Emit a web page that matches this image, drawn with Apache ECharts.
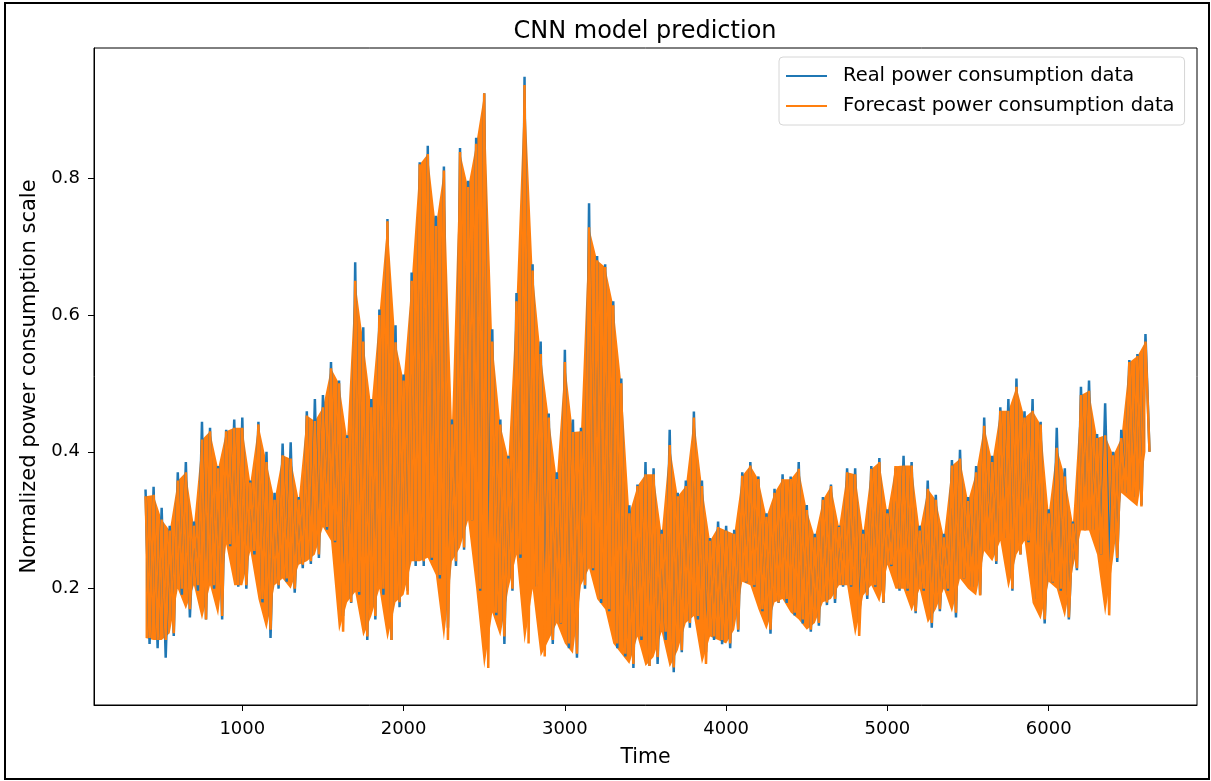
<!DOCTYPE html>
<html><head><meta charset="utf-8">
<script src="https://cdn.jsdelivr.net/npm/echarts@6/dist/echarts.min.js"></script>
<style>html,body{margin:0;padding:0;background:#fff}#c{width:1211px;height:781px}</style>
</head><body><div id="c"></div>
<script>
// Time index of first sample and spacing between successive peak samples
const xStart = 400;
const xStep = 50;

// Real power consumption: local highs (at xStart + i*xStep) and lows (half a step later)
const realHigh = [0.345,0.349,0.318,0.292,0.370,0.385,0.298,0.444,0.435,0.379,
 0.432,0.447,0.450,0.358,0.444,0.400,0.340,0.412,0.414,0.334,
 0.459,0.477,0.483,0.531,0.504,0.424,0.677,0.582,0.477,0.608,
 0.740,0.585,0.513,0.662,0.823,0.847,0.745,0.817,0.447,0.844,
 0.796,0.859,0.924,0.579,0.447,0.394,0.632,0.948,0.674,0.561,
 0.456,0.370,0.549,0.447,0.435,0.763,0.686,0.674,0.620,0.507,
 0.322,0.352,0.385,0.376,0.286,0.432,0.340,0.358,0.459,0.358,
 0.274,0.298,0.292,0.286,0.370,0.385,0.364,0.310,0.346,0.367,
 0.364,0.385,0.322,0.280,0.334,0.352,0.292,0.376,0.376,0.286,
 0.379,0.391,0.316,0.376,0.394,0.385,0.292,0.358,0.337,0.280,
 0.388,0.403,0.334,0.379,0.450,0.394,0.465,0.477,0.507,0.459,
 0.477,0.444,0.316,0.435,0.376,0.298,0.495,0.504,0.426,0.471,
 0.400,0.432,0.534,0.543,0.572];
const realLow = [0.119,0.113,0.099,0.131,0.191,0.158,0.197,0.155,0.200,0.155,
 0.262,0.203,0.200,0.250,0.180,0.128,0.200,0.210,0.194,0.230,
 0.236,0.245,0.286,0.268,0.160,0.179,0.191,0.125,0.155,0.191,
 0.125,0.173,0.197,0.233,0.233,0.242,0.215,0.143,0.233,0.257,
 0.300,0.197,0.190,0.161,0.119,0.197,0.245,0.200,0.203,0.146,
 0.119,0.149,0.113,0.099,0.200,0.227,0.179,0.167,0.113,0.101,
 0.084,0.125,0.087,0.090,0.125,0.078,0.107,0.143,0.155,0.107,
 0.125,0.119,0.113,0.137,0.209,0.203,0.167,0.134,0.179,0.179,
 0.161,0.149,0.137,0.146,0.176,0.179,0.203,0.203,0.150,0.185,
 0.203,0.179,0.233,0.197,0.197,0.164,0.197,0.143,0.167,0.197,
 0.158,0.215,0.203,0.191,0.257,0.236,0.274,0.197,0.250,0.268,
 0.185,0.149,0.209,0.197,0.155,0.227,0.286,0.286,0.250,0.233,
 0.239,0.340,0.334,0.322,0.400];

// Forecast power consumption: local highs and lows at the same times
const forecastHigh = [0.335,0.337,0.301,0.285,0.358,0.370,0.292,0.418,0.430,0.376,
 0.430,0.435,0.435,0.355,0.440,0.385,0.330,0.395,0.390,0.330,
 0.453,0.445,0.465,0.522,0.500,0.420,0.650,0.561,0.465,0.600,
 0.737,0.560,0.504,0.650,0.820,0.835,0.730,0.811,0.440,0.838,
 0.787,0.850,0.924,0.561,0.440,0.390,0.620,0.936,0.665,0.543,
 0.450,0.360,0.531,0.429,0.430,0.728,0.680,0.670,0.614,0.500,
 0.310,0.350,0.367,0.367,0.280,0.410,0.335,0.350,0.450,0.350,
 0.270,0.290,0.285,0.280,0.365,0.380,0.360,0.305,0.340,0.360,
 0.360,0.375,0.315,0.275,0.330,0.350,0.290,0.370,0.367,0.280,
 0.375,0.385,0.310,0.379,0.380,0.380,0.285,0.346,0.330,0.275,
 0.380,0.390,0.328,0.370,0.438,0.385,0.460,0.460,0.495,0.450,
 0.460,0.440,0.310,0.406,0.364,0.295,0.483,0.489,0.420,0.424,
 0.395,0.420,0.531,0.540,0.561];
const forecastLow = [0.128,0.125,0.125,0.135,0.200,0.170,0.205,0.155,0.205,0.160,
 0.265,0.205,0.205,0.255,0.185,0.140,0.205,0.215,0.200,0.235,
 0.240,0.250,0.290,0.270,0.137,0.180,0.195,0.130,0.160,0.200,
 0.125,0.180,0.191,0.240,0.240,0.245,0.220,0.125,0.240,0.260,
 0.300,0.200,0.084,0.165,0.130,0.200,0.250,0.120,0.200,0.101,
 0.125,0.150,0.120,0.105,0.205,0.230,0.185,0.170,0.120,0.105,
 0.090,0.130,0.087,0.100,0.137,0.085,0.110,0.150,0.160,0.090,
 0.130,0.125,0.120,0.140,0.210,0.205,0.170,0.140,0.180,0.185,
 0.165,0.155,0.140,0.150,0.180,0.185,0.205,0.205,0.131,0.190,
 0.205,0.180,0.235,0.200,0.200,0.167,0.200,0.150,0.170,0.200,
 0.165,0.215,0.200,0.190,0.255,0.240,0.270,0.200,0.250,0.270,
 0.179,0.155,0.210,0.200,0.158,0.230,0.285,0.285,0.250,0.161,
 0.245,0.340,0.330,0.320,0.400];

const xTicks = [1000, 2000, 3000, 4000, 5000, 6000];
const yTicks = [0.2, 0.4, 0.6, 0.8];
const seriesNames = ['Real power consumption data', 'Forecast power consumption data'];

// Zigzag line through the highs and lows
function zigzag(hi, lo) {
  const out = [];
  for (let i = 0; i < hi.length; i++) {
    out.push([xStart + i * xStep, hi[i]]);
    out.push([xStart + i * xStep + xStep / 2, lo[i]]);
  }
  return out;
}

const BLUE = '#1f77b4', ORANGE = '#ff7f0e';
const FONT = 'DejaVu Sans';
const chart = echarts.init(document.getElementById('c'), null, {renderer: 'canvas'});
chart.setOption({
  animation: false,
  backgroundColor: '#fff',
  title: {
    text: 'CNN model prediction',
    left: 640, top: 15, textAlign: 'center',
    textStyle: {fontFamily: FONT, fontSize: 24, fontWeight: 'normal', color: '#000'}
  },
  legend: {
    orient: 'vertical',
    left: 779, top: 57,
    padding: [8, 10, 8, 7],
    itemGap: 8,
    itemWidth: 41, itemHeight: 2,
    icon: 'rect',
    borderColor: '#d6d6d6', borderWidth: 1, borderRadius: 4,
    backgroundColor: 'rgba(255,255,255,0.8)',
    textStyle: {fontFamily: FONT, fontSize: 19.5, color: '#000', lineHeight: 22, padding: [0, 0, 0, 11]},
    data: seriesNames
  },
  grid: {left: 94, top: 48, width: 1103, height: 657, show: true, z: 5,
    borderColor: '#000', borderWidth: 1, backgroundColor: 'transparent'},
  xAxis: {
    type: 'value', min: 80.5, max: 6919.5, z: 10,
    name: 'Time', nameLocation: 'middle', nameGap: 42,
    nameTextStyle: {fontFamily: FONT, fontSize: 20.5, color: '#000'},
    axisLine: {show: true, onZero: false, lineStyle: {color: '#000', width: 1}},
    axisTick: {show: true, length: 6, customValues: xTicks, lineStyle: {color: '#000', width: 1}},
    axisLabel: {customValues: xTicks, fontFamily: FONT, fontSize: 18, color: '#000', margin: 15,
      formatter: v => String(v)},
    splitLine: {show: false}
  },
  yAxis: {
    type: 'value', min: 0.03, max: 0.99, z: 10,
    name: 'Normalized power consumption scale', nameLocation: 'middle', nameGap: 53,
    nameTextStyle: {fontFamily: FONT, fontSize: 21, color: '#000'},
    axisLine: {show: true, onZero: false, lineStyle: {color: '#000', width: 1}},
    axisTick: {show: true, length: 6, customValues: yTicks, lineStyle: {color: '#000', width: 1}},
    axisLabel: {customValues: yTicks, fontFamily: FONT, fontSize: 18, color: '#000', margin: 14,
      formatter: v => v.toFixed(1)},
    splitLine: {show: false}
  },
  graphic: [{
    type: 'rect', silent: true, z: 100,
    shape: {x: 5, y: 3, width: 1204, height: 776},
    style: {fill: 'none', stroke: '#000', lineWidth: 2}
  }],
  series: [
    {
      // The dense oscillation of the forecast fills the space between its lows and highs
      name: 'forecast-band', type: 'custom', silent: true, clip: true,
      data: [[xStart, forecastHigh[0]]],
      renderItem: (params, api) => {
        const pts = [];
        for (let i = 0; i < forecastHigh.length; i++) pts.push(api.coord([xStart + i * xStep, forecastHigh[i]]));
        for (let i = forecastLow.length - 1; i >= 0; i--) pts.push(api.coord([xStart + i * xStep, forecastLow[i]]));
        return {type: 'polygon', shape: {points: pts}, style: {fill: ORANGE, stroke: null}};
      }
    },
    {name: seriesNames[0], type: 'line', data: zigzag(realHigh, realLow), showSymbol: false, symbol: 'none',
     lineStyle: {color: BLUE, width: 2.5}, itemStyle: {color: BLUE}},
    {name: seriesNames[1], type: 'line', data: zigzag(forecastHigh, forecastLow), showSymbol: false, symbol: 'none',
     lineStyle: {color: ORANGE, width: 2.5}, itemStyle: {color: ORANGE}}
  ]
});
</script></body></html>
